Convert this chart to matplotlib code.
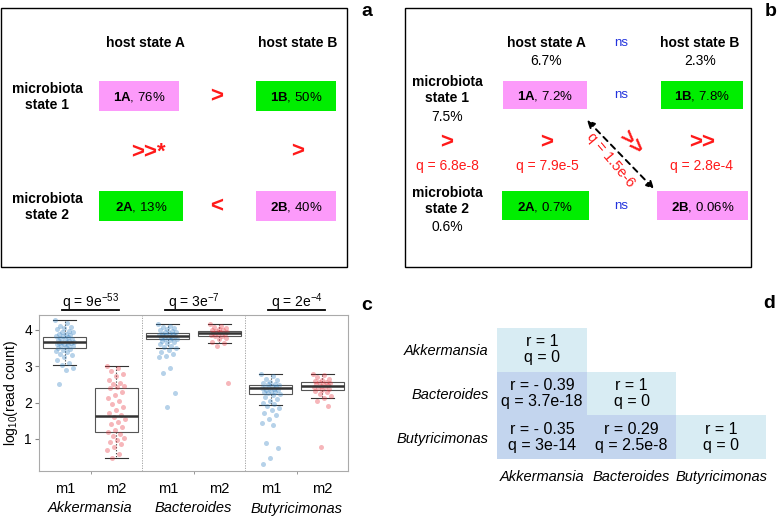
import matplotlib.pyplot as plt
from matplotlib.patches import Rectangle, FancyArrowPatch

plt.rcParams["font.family"] = ["Liberation Sans", "DejaVu Sans"]
plt.rcParams["mathtext.fontset"] = "custom"
plt.rcParams["mathtext.rm"] = "Liberation Sans"
plt.rcParams["mathtext.bf"] = "Liberation Sans:bold"
plt.rcParams["mathtext.it"] = "Liberation Sans:italic"

PINK = "#fc9afa"
GREEN = "#00ee00"
RED = "#ff1a1a"
NS_BLUE = "#2233dd"

# Panel a: state combinations and their percentages
a_cells = ["1A", "1B", "2A", "2B"]
a_pct = ["76%", "50%", "13%", "40%"]
a_colors = [PINK, GREEN, GREEN, PINK]
a_row_signs = [">", "<"]
a_col_signs = [">>*", ">"]

# Panel b
b_cells = ["1A", "1B", "2A", "2B"]
b_pct = ["7.2%", "7.8%", "0.7%", "0.06%"]
b_colors = [PINK, GREEN, GREEN, PINK]
b_host_pct = ["6.7%", "2.3%"]
b_micro_pct = ["7.5%", "0.6%"]
b_col_signs = [">", ">", ">>"]
b_col_q = ["q = 6.8e-8", "q = 7.9e-5", "q = 2.8e-4"]
b_diag_q = "q = 1.5e-6"

# Panel c: box stats (whisker low, Q1, median, Q3, whisker high) per group
genera = ["Akkermansia", "Bacteroides", "Butyricimonas"]
groups = ["m1", "m2", "m1", "m2", "m1", "m2"]
c_q = [r"q = 9e$^{-53}$", r"q = 3e$^{-7}$", r"q = 2e$^{-4}$"]
c_box = [
    [3.03, 3.50, 3.66, 3.80, 4.26],
    [0.47, 1.19, 1.64, 2.40, 3.01],
    [3.50, 3.75, 3.84, 3.92, 4.17],
    [3.64, 3.84, 3.92, 3.98, 4.15],
    [1.93, 2.25, 2.39, 2.48, 2.78],
    [2.12, 2.35, 2.46, 2.56, 2.80],
]
c_points = [
    [4.26, 4.18, 4.12, 4.08, 4.05, 4.02, 3.98, 3.95, 3.93, 3.9, 3.88, 3.86,
     3.84, 3.82, 3.8, 3.78, 3.76, 3.74, 3.72, 3.7, 3.68, 3.67, 3.66, 3.65,
     3.63, 3.61, 3.6, 3.58, 3.56, 3.55, 3.53, 3.5, 3.48, 3.45, 3.42, 3.38,
     3.34, 3.3, 3.25, 3.18, 3.1, 3.03, 2.95, 2.9, 2.5],
    [3.01, 2.95, 2.88, 2.8, 2.72, 2.62, 2.55, 2.5, 2.45, 2.42, 2.4, 2.3,
     2.2, 2.12, 2.05, 1.95, 1.88, 1.8, 1.72, 1.66, 1.6, 1.55, 1.48, 1.4,
     1.33, 1.25, 1.2, 1.15, 1.08, 1.02, 0.98, 0.92, 0.85, 0.78, 0.7, 0.6, 0.47],
    [4.17, 4.12, 4.08, 4.05, 4.02, 4.0, 3.97, 3.95, 3.93, 3.91, 3.9, 3.88,
     3.87, 3.85, 3.84, 3.83, 3.82, 3.8, 3.79, 3.77, 3.76, 3.74, 3.72, 3.7,
     3.67, 3.64, 3.6, 3.56, 3.52, 3.5, 3.45, 3.38, 3.33, 3.28, 3.25, 2.96,
     2.82, 2.27, 1.89],
    [4.15, 4.1, 4.07, 4.05, 4.03, 4.01, 3.99, 3.97, 3.95, 3.93, 3.92, 3.9,
     3.88, 3.86, 3.84, 3.82, 3.78, 3.74, 3.68, 3.64, 3.55, 2.55],
    [2.78, 2.72, 2.66, 2.62, 2.58, 2.55, 2.52, 2.5, 2.48, 2.46, 2.44, 2.42,
     2.4, 2.39, 2.38, 2.36, 2.34, 2.32, 2.3, 2.28, 2.26, 2.24, 2.2, 2.15,
     2.1, 2.05, 2.0, 1.95, 1.9, 1.85, 1.8, 1.72, 1.65, 1.55, 1.45, 1.38,
     0.9, 0.76, 0.48, 0.3],
    [2.8, 2.75, 2.7, 2.66, 2.62, 2.6, 2.58, 2.56, 2.54, 2.52, 2.5, 2.48,
     2.46, 2.44, 2.42, 2.4, 2.38, 2.36, 2.33, 2.3, 2.25, 2.18, 2.12, 2.05,
     1.9, 0.77],
]
c_point_colors = ["#2f7fc1", "#e8303a"] * 3

# Panel d: lower-triangle correlations (row, col)
d_pairs = [(0, 0), (1, 0), (1, 1), (2, 0), (2, 1), (2, 2)]
d_r = [1, -0.39, 1, -0.35, 0.29, 1]
d_q = ["0", "3.7e-18", "0", "3e-14", "2.5e-8", "0"]

fig = plt.figure(figsize=(7.78, 5.17), dpi=100)

# Overlay in pixel coordinates for the diagram panels
ov = fig.add_axes([0, 0, 1, 1])
ov.set_xlim(0, 778)
ov.set_ylim(517, 0)
ov.axis("off")

bold = dict(fontsize=10, fontweight="bold", ha="center", va="center")
sign = dict(fontsize=16, fontweight="bold", color=RED, ha="center", va="center")

# ---- Panel a ----
ov.add_patch(Rectangle((1.5, 8), 345.5, 259, fill=False, ec="black", lw=1))
ov.text(367, 11, "a", fontsize=14, fontweight="bold", ha="center", va="center")
ov.text(145, 43, "host state A", **bold)
ov.text(298, 43, "host state B", **bold)
ov.text(47, 97, "microbiota\nstate 1", linespacing=1.2, **bold)
ov.text(47, 207, "microbiota\nstate 2", linespacing=1.2, **bold)
a_geom = [(99, 81, 80), (256, 81, 80), (99, 191, 84), (256, 191, 80)]
for (x, y, w), cell, pct, col in zip(a_geom, a_cells, a_pct, a_colors):
    ov.add_patch(Rectangle((x, y), w, 30, color=col, lw=0))
    ov.text(x + w / 2, y + 16, rf"$\mathbf{{{cell}}}$, {pct}", fontsize=9.5,
            ha="center", va="center")
ov.text(217, 97, a_row_signs[0], **sign)
ov.text(217, 207, a_row_signs[1], **sign)
ov.text(148, 152, a_col_signs[0], **sign)
ov.text(298, 152, a_col_signs[1], **sign)

# ---- Panel b ----
ov.add_patch(Rectangle((405, 8), 346, 259, fill=False, ec="black", lw=1))
ov.text(771, 11, "b", fontsize=14, fontweight="bold", ha="center", va="center")
ov.text(546, 43, "host state A", **bold)
ov.text(700, 43, "host state B", **bold)
ov.text(546, 61, b_host_pct[0], fontsize=10, ha="center", va="center")
ov.text(700, 61, b_host_pct[1], fontsize=10, ha="center", va="center")
for y in (43, 95, 206):
    ov.text(621, y, "ns", fontsize=9.5, color=NS_BLUE, ha="center", va="center")
ov.text(447, 90, "microbiota\nstate 1", linespacing=1.2, **bold)
ov.text(447, 117, b_micro_pct[0], fontsize=10, ha="center", va="center")
ov.text(447, 201, "microbiota\nstate 2", linespacing=1.2, **bold)
ov.text(447, 227, b_micro_pct[1], fontsize=10, ha="center", va="center")
b_geom = [(503, 81, 84, 28), (661, 81, 82, 28), (502, 191, 87, 29), (657, 191, 91, 29)]
for (x, y, w, h), cell, pct, col in zip(b_geom, b_cells, b_pct, b_colors):
    ov.add_patch(Rectangle((x, y), w, h, color=col, lw=0))
    ov.text(x + w / 2, y + h / 2 + 1, rf"$\mathbf{{{cell}}}$, {pct}", fontsize=9.5,
            ha="center", va="center")
for x, s, q in zip((447, 547, 702), b_col_signs, b_col_q):
    ov.text(x, 143, s, **sign)
    ov.text(x, 166, q, fontsize=10, color=RED, ha="center", va="center")
ov.add_patch(FancyArrowPatch((587, 120), (654, 189), arrowstyle="<|-|>",
                             mutation_scale=11, color="black", lw=1.4,
                             linestyle=(0, (3, 2.5)), shrinkA=0, shrinkB=0))
ov.text(630, 143, ">>", rotation=-46, rotation_mode="anchor", fontsize=16,
        fontweight="bold", color=RED, ha="center", va="center")
ov.text(611, 160, b_diag_q, rotation=-50, rotation_mode="anchor", fontsize=10.5,
        color=RED, ha="center", va="center")

# ---- Panel c ----
W, H = 778, 517
ax = fig.add_axes([39 / W, (H - 471) / H, 309 / W, 156 / H])
pos = list(range(1, 7))
stats = [dict(whislo=b[0], q1=b[1], med=b[2], q3=b[3], whishi=b[4], fliers=[])
         for b in c_box]
ax.bxp(stats, positions=pos, widths=0.84, capwidths=0.44, patch_artist=True,
       showfliers=False,
       boxprops=dict(facecolor="white", edgecolor="#555555", lw=0.8, zorder=2),
       whiskerprops=dict(color="#333333", lw=0.8, linestyle=":"),
       capprops=dict(color="#333333", lw=0.8),
       medianprops=dict(color="#333333", lw=1.8, zorder=4))
for p, vals, col in zip(pos, c_points, c_point_colors):
    xs = [p + ((i * 0.618034) % 1 - 0.5) * 0.36 for i in range(len(vals))]
    ax.scatter(xs, vals, s=13, color=col, alpha=0.35, lw=0, zorder=3)
for x in (2.5, 4.5):
    ax.axvline(x, color="#999999", lw=0.6, linestyle=(0, (1.5, 1.5)))
ax.set_xlim(0.5, 6.5)
ax.set_ylim(0.12, 4.41)
ax.set_yticks([1, 2, 3, 4])
ax.tick_params(axis="y", labelsize=10, length=3, color="#888888", pad=2)
ax.set_xticks(pos, groups)
ax.tick_params(axis="x", labelsize=10.5, length=0, pad=8)
ax.set_xticks([1.5, 3.5, 5.5], minor=True)
ax.tick_params(axis="x", which="minor", length=2, color="#888888")
for sp in ax.spines.values():
    sp.set_color("#aaaaaa")
ax.set_ylabel(r"log$_{10}$(read count)", fontsize=10)
ax.yaxis.set_label_coords(-0.062, 0.5)
for i, (g, q) in enumerate(zip(genera, c_q)):
    xc = 1.5 + 2 * i
    ax.annotate(g, xy=(xc, 0), xycoords=("data", "axes fraction"),
                xytext=(0, -27), textcoords="offset points", fontsize=10.5,
                fontstyle="italic", ha="center", va="center")
    ax.plot([xc - 0.56, xc + 0.56], [4.55, 4.55], color="black", lw=1.3,
            clip_on=False)
    ax.text(xc, 4.76, q, fontsize=10, ha="center", va="center")
ov.text(367, 305, "c", fontsize=14, fontweight="bold", ha="center", va="center")

# ---- Panel d ----
axd = fig.add_axes([497 / W, (H - 459) / H, 269 / W, 131 / H])
axd.set_xlim(0, 3)
axd.set_ylim(3, 0)
for (r, c), rv, qv in zip(d_pairs, d_r, d_q):
    col = "#d8ecf3" if r == c else "#c3d5ee"
    axd.add_patch(Rectangle((c, r), 1, 1, color=col, lw=0))
    rtxt = f"r = - {abs(rv)}" if rv < 0 else f"r = {rv:g}"
    axd.text(c + 0.5, r + 0.5, f"{rtxt}\nq = {qv}", fontsize=11.5,
             ha="center", va="center", linespacing=1.1)
axd.set_yticks([0.5, 1.5, 2.5], genera, fontstyle="italic", fontsize=10.5)
axd.set_xticks([0.5, 1.5, 2.5], genera, fontstyle="italic", fontsize=10.5)
axd.tick_params(axis="y", length=0, pad=6)
axd.tick_params(axis="x", length=0, pad=8)
for sp in axd.spines.values():
    sp.set_visible(False)
ov.text(769, 304, "d", fontsize=14, fontweight="bold", ha="center", va="center")

fig.savefig("out.png", dpi=100)
